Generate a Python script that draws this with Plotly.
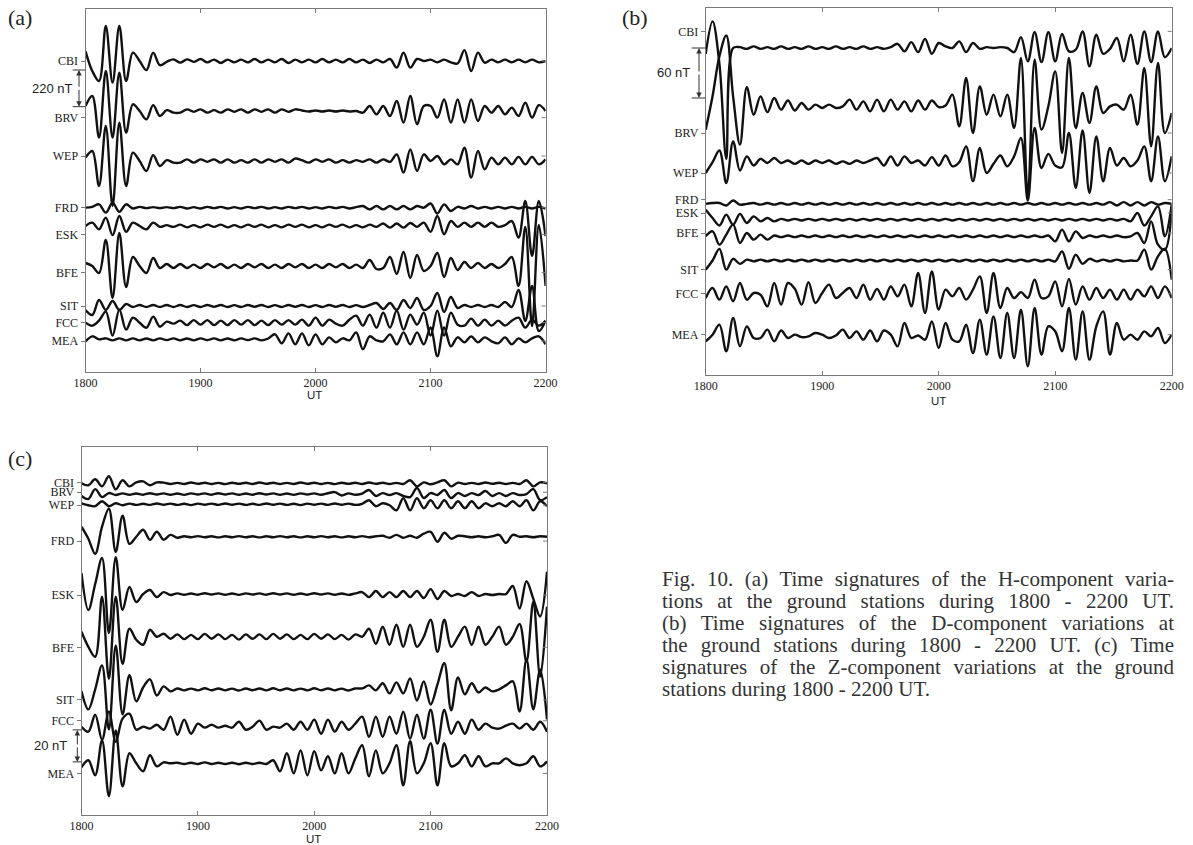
import json
import numpy as np
import plotly.graph_objects as go

W, H = 1193, 845

# sampling times, minutes after 1800 UT
T_MIN = np.linspace(0, 240, 69)
X_TICKS = [0, 60, 120, 180, 240]
X_TICK_TEXT = ["1800", "1900", "2000", "2100", "2200"]
STATIONS = ["CBI", "BRV", "WEP", "FRD", "ESK", "BFE", "SIT", "FCC", "MEA"]

# ---------------- (a) H component (nT) ----------------
H_CBI = [60, -60, -120, 210, -130, 210, -120, 50, 0, -55, 50, -25, -5, 10,
         -10, 10, -5, 12, -8, 8, -12, 8, -8, 8, -8, 12, -8, 8, -8, 12, -12, 8,
         -8, 8, -8, 12, -8, 8, -8, 12, -8, 8, -12, 8, -8, 12,
         -40, 50, -40, 12, 0, 8, -8, 8, -8, -15, 65, -60, 50, -10, 8, -8, 8, -8, 8, -8, 8, -8, 0]
H_BRV = [30, 90, -160, 240, -160, 230, -130, 40, 0, -50, 35, -30, 5, -10,
         -10, 10, -5, 10, -10, 5, -10, 10, -5, 10, -10, 10, -5, 10, -10, 10, -5, 10,
         3, -3, 3, -3, 3, -3, 3, -3,
         0, -10, 30, -20, 30, -30, 60, -70, 90, -80, 30, 30, -40, 70, -70, 70, -70, 70, -60, 30,
         -10, 30, -20, 20, -30, 50, -40, 35, 0]
H_WEP = [20, 60, -150, 210, -270, 230, -150, 50, 0, -60, 35, -30, 5, -10,
         -10, 10, -10, 10, -5, 10, -10, 10, -10, 5, -10, 10, -10, 10, -5, 10, -10, 15,
         5, -10, 10, -5, 10, -10, 5, -10,
         5, -5, 10, -10, 10, -5, 40, -70, 70, -60, 40, 0, 30, -20, 10, -20, 80, -100, 60, -50,
         20, -20, 20, -20, 25, -20, 25, -20, 10]
H_FRD = [0, 5, 20, -30, 30, -25, 20, -5, 5, -3, 3, -3, 3, -3,
         5, -5, 3, -5, 5, -3, 5, -5, 3, -5, 5, -3, 5, -5, 3, -5, 5, -3, 5, -5, 3, -5, 5, -3, 5, -5, 3,
         10, -10, 10, -10, 10, -10, 10, -10, 10,
         0, 25, -35, 20, -20, 5, -5, 10, -5, 5, -5, 5, -5, 5, -5, 5, -5, 5, -5]
H_ESK = [0, 20, -20, 50, -55, 60, -35, 20, 0, -20, 20, -5, 5, -5,
         8, -8, 5, -8, 8, -5, 8, -8, 5, -8, 8, -5, 8, -8, 5, -8, 8, -5,
         8, -8, 5, -8, 8, -5, 8, -8, 5, -8, 8, -5, 15, -10, 15, -10, 18, -5,
         20, -35, 60, -50, 30, -5, 20, -5, 20, -5, 20, -5, 5,
         30, -70, 150, -180, 150, -60]
H_BFE = [18, 0, -42, 156, -192, 198, -126, 54, 0, -42, 48, -12, 12, -12,
         12, -12, 8, -12, 12, -8, 12, -12, 8, -12, 12, -8, 12, -12, 8, -12, 12, -8, 12, -12,
         8, -12, 12, -8, 12, -12, 8, -12,
         36, -18, -12, 54, -48, 84, -72, 66, -30, 0, 78, -66, 48, -24, 24, -12, 18, -12, 12, -12, 12,
         54, -120, 234, -360, 246, -120]
H_SIT = [-24, -54, 36, -24, 30, -24, 12, -6, 6, -6, 6, -6, 6, -6,
         6, -6, 5, -6, 6, -5, 6, -6, 5, -6, 6, -5, 6, -6, 5, -6, 6, -5, 6, -6,
         5, -6, 6, -5, 6, -6, 5, -6, 6, 18, -18, 18,
         -24, 36, -12, 48, -24, 0, 78, -36, 54, -12, 6, -6, 6, -6, 6, -6, 24, -6, 96, -90, 120, -150, -90]
H_FCC = [0, -18, 12, 66, -78, 78, -42, 30, 0, -30, 36, -24, 6, -6,
         12, -15, 15, -12, 15, -15, 12, -15, 15, -12, 15, -15, 12, -15, 15, -12, 15, -12, 18, -18,
         30, -18, 18, -6, -18, 18, 42, -18, 48, -30, 60, -30, 72, -42, 48, -12, 60, -78, 72, -78,
         60, -12, -18, 24, -18, 18, -18, 12, -18, 12, 30, -30, 18, -18, 12]
H_MEA = [-12, 18, 0, 6, -6, 6, -6, 6, -6, 5, -6, 6, -5, 6, -6, 5, -6, 6, -5, 6, -6, 5, -6, 6,
         -5, 6, -6, 5,
         30, -24, 36, -30, 36, -36, 30, -30, 12, -18, 6, -6, 42, -60, 18, -6, -12, 30, -30, 42,
         -30, 42, -30, 72, -102, 72, -42, 12, -18, 18, -18, 12, -12, -24, 12, -30, 6, -18, 6, 18, -30]

# ---------------- (b) D component (nT) ----------------
D_CBI = [-7, 32, -19, -133, 0,
         1, -1, 2, -1, 1, -1, 2, -1, 1, -1, 2, -1, 1, -1, 2, -1, 1, -1, 2, -1, 1, -1, 1,
         5, -4, 7, -5, 11, -7, 6, 2, 0, 8, -5, 6, -1, 1, 0, 1, 0, -5, 13, -16, 19, -17, 19, -16,
         17, -4, -2, 20, -22, 16, -7, -1, 12, -16, 16, -19, 20, -17, 20, -11, 0]
D_BRV = [-28, 12, 60, 85, 12, -46, 23, -10, 12, -7, 10, -4, 7, -5, 4, -4, 2, -2, 2, -2, 0,
         8, -4, 6, -6, 8, -6, 8, -4, 6, -6, 7, -4, 7, -1, 1, 14, -24, 34, -32, 24, -10, 14, -12,
         14, -26, 58, -108, 56, -28, 0, 42, -56, 58, -26, 16, -20, 24, -8, 0, 2, -4, 14, -22,
         46, -48, 52, -32, -8]
D_WEP = [-13, 0, 14, -25, 25, -10, 7, -4, 4, -1, 5, -1, 2, -2,
         2, -2, 2, -1, 2, -2, 1, -2, 2, -1, 2,
         5, -4, 7, -4, 7, -1, 2, -4, 6, -4, 8, -5, 0, 19, -23, 17, -13, -2, 8, -5, 7, 29, -46,
         41, -7, 10, -4, -6, 35, -31, 38, -37, 31, -23, 17, -4, 5, -5, 2, 19, -23, 31, -23, 7]
D_FRD = [0, 1, 1, -2, 4, -1, 0,
         1, -1, 1, -1, 1, -1, 1, -1, 1, -1, 1, -1, 1, -1, 1, -1, 1, -1, 1, -1, 1, -1, 1, -1,
         1, -1, 1, -1, 1, -1, 1, -1, 1, -1, 1, -1, 1, -1, 1, -1, 1, -1, 1, -1, 1, -1, 1, -1,
         1, -1, 1, -1,
         2, -2, 2, -2, 2, -2, 2, -1, 1, 0]
D_ESK = [12, 2, -7, 6, -6, 7, -4, 4, -2, 2, -2,
         1, -1, 1, -1, 1, -1, 1, -1, 1, -1, 1, -1, 1, -1, 1, -1, 1, -1, 1, -1, 1, -1, 1, -1,
         1, -1, 1, -1, 1, -1, 1, -1, 1, -1, 1, -1, 1, -1, 1, -1, 1, -1, 1, -1, 1, -1, 1, -1,
         1, -1, 1,
         -2, 8, -7, 4, 16, -20, 18]
D_BFE = [0, 6, -10, 2, 14, -8, 4, -4, 2, -4, 1, -1,
         1, -1, 1, -1, 1, -1, 1, -1, 1, -1, 1, -1, 1, -1, 1, -1, 1, -1, 1, -1, 1, -1, 1, -1,
         1, -1, 1, -1, 1, -1, 1, -1, 1, -1, 1, -1, 1, -1, 1,
         -6, 8, -6, 6, -2, 1, -1, 1, -1, 1, -1, 0,
         4, -8, 18, -10, -16, 30]
D_SIT = [-11, 0, 14, -11, 2, -4, 1, -1,
         1, -1, 1, -1, 1, -1, 1, -1, 1, -1, 1, -1, 1, -1, 1, -1, 1, -1, 1, -1, 1, -1, 1, -1,
         1, -1, 1, -1, 1, -1, 1, -1, 1, -1, 1, -1, 1, -1, 1, -1, 1, -1, 1,
         -1, 11, -10, 7, -4, 2, -1, 1, -1, 1, -1, 0,
         0, 13, -11, 5, 14, -23]
D_FCC = [-6, 6, -8, 8, -10, 12, -8, 0, -2, -16, 12, -14, 12, 5, -14, 13, -12, 0, 10, -6, 0, 6,
         -6, 10, -8, 5, -8, 8, -4, 10, -16, 24, -24, 26, -20, 4, -4, 6, -8, 4, 20, -24, 24, -18,
         6, -6, 1, -6, 16, -6, -4, 14, -16, 17, -14, 8, -8, 6, -6, 4, -8, 4, -8, 4, -4, 8, -6, 8, -6]
D_MEA = [-6, 2, 14, -18, 22, -12, 12, -2, -2, 8, -6, 7, -2, 2, -1, 0, 4, 2, -2, 1, 8, -2, 6,
         -4, 7, -6, 7, 2, -12, 16, -2, 1, -4, 18, -14, 16, -4, -6, 14, -20, 20, -22, 24, -26, 28,
         -26, 32, -36, 34, -22, 12, 6, -18, 34, -28, 30, -28, 12, 30, -22, 16, -4, 2, -4, 6, 0,
         10, -8, 2]

# ---------------- (c) Z component (nT) ----------------
Z_CBI = [0, -1.2, 2.5, -1.9, 4.4, -3.8, 1.9, -1.9, 0.6, 1.2, -1.2, 0.6,
         0.4, -0.4, 0.3, -0.4, 0.5, -0.3, 0.4, -0.4, 0.3, -0.5, 0.4, -0.3, 0.4, -0.4, 0.5, -0.3,
         0.4, -0.4, 0.3, -0.4, 0.5, -0.3, 0.4, -0.4, 0.3, -0.5, 0.4, -0.3, 0.4, -0.4, 0.5, -0.3,
         0.4, -0.4, 0.3, -0.4,
         1.9, -1.9, 0.6, -0.6, 0.6, 1.9, -1.9,
         0.4, -0.4, 0.3, -0.4, 0.5, -0.3, 0.4, -0.4, 0.3, -0.4,
         1.9, -1.9, 0.6, 0]
Z_BRV = [-1.2, -3.1, 3.1, -1.9, 0.6, -0.6,
         0.4, -0.4, 0.3, -0.4, 0.5, -0.3, 0.4, -0.4, 0.3, -0.5, 0.4, -0.3, 0.4, -0.4, 0.5, -0.3,
         0.4, -0.4, 0.3, -0.4, 0.5, -0.3, 0.4, -0.4, 0.3, -0.5, 0.4, -0.3, 0.4, -0.4, 0.5, 1.2,
         -0.9, 0.4, -0.4, 0.3,
         2.5, -1.2, 0.6, -0.6, 0.6, -1.2, -1.9, 3.8, -2.5, 0.6, -0.6, 2.5, -2.5, 0.6, -1.2, 0.6,
         -0.6, 1.9, -1.2, 0.6, -1.2, 0.6, -0.6, 0, 3.1, -3.8, -1.9]
Z_WEP = [0.6, -0.6, -1.2, 1.9, -1.2, 0.6, -0.6,
         0.4, -0.4, 0.3, -0.4, 0.5, -0.3, 0.4, -0.4, 0.3, -0.5, 0.4, -0.3, 0.4, -0.4, 0.5, -0.3,
         0.4, -0.4, 0.3, -0.4, 0.5, -0.3, 0.4, -0.4, 0.3, -0.5, 0.4, -0.3, 0.4, -0.4, 0.5, -0.3,
         0.4, -0.4, 0.3,
         2.5, -1.2, 0.6, -0.6, -3.8, 3.8, -3.8, 3.8, -2.5, 2.5, -2.5, 2.5, -2.5, 1.9, -2.5, 1.9,
         -2.5, 0.6, -1.2, 0.6, -1.2, 1.9, -1.2, 2.5, -3.8, 1.9, -1.2]
Z_FRD = [6.3, -1.2, -10.6, 6.3, 17.5, -9.4, 13.1, -4.4, 0, 4.4, -1.9, 3.1, -1.9, 1.2, -0.6,
         0.3, -0.3, 0.4, -0.3, 0.3, -0.4, 0.3, -0.3, 0.4, -0.3, 0.3, -0.4, 0.3, -0.3, 0.4, -0.3,
         0.3, -0.4, 0.3, -0.3, 0.4, -0.3, 0.3, -0.4, 0.3, -0.3, 0.4, -0.3, 0.3,
         0.6, -0.6, 1.2, -0.6, 0.6, -0.6, 1.9, 3.1, -3.1, 2.5, -1.2, 0.6,
         0.3, -0.3, 0.3, -0.3, 0.3,
         1.2, -3.8, 1.2, 0, 0.3, -0.3, 0.3, 0]
Z_ESK = [13.1, -10, 6.3, 22.5, -24.4, 23.1, -10, 4.4, -5, 0, 2.5, -1.9, 1.2, -0.6,
         0.4, -0.4, 0.3, -0.4, 0.5, -0.3, 0.4, -0.4, 0.3, -0.5, 0.4, -0.3, 0.4, -0.4, 0.5, -0.3,
         0.4, -0.4, 0.3, -0.4, 0.5, -0.3, 0.4, -0.4, 0.3, -0.5, 0.4,
         1.2, -1.9, 1.9, -1.9, 1.2, -1.9, 1.9, -1.9, 1.9, -2.5, 3.1, -3.1, 1.9, -1.2, 0, -1.2, 1.2,
         -1.2, 0, -0.6, 0, 0,
         5, -9, 8, -3, -14, 14]
Z_BFE = [3.1, -6.3, -12.5, 25, -26.3, 25, -16.9, 5, -1.9, -5, 4.4, 0, 1.9, -1.2,
         1.5, -1.5, 1.2, -1.5, 1.8, -1.2, 1.5, -1.5, 1.2, -1.8, 1.5, -1.2, 1.5, -1.5, 1.8, -1.2,
         1.5, -1.5, 1.2, -1.5, 1.8, -1.2, 1.5, -1.5, 1.2, -1.8, 1.5,
         0, 5, -4.4, 6.3, -5, 7.5, -6.3, 7.5, -6.3, 0, 10.6, -9.4, 10.6, -6.3, 0, 6.3, -5, 6.3,
         -5, 0, 6.3, -5,
         0, 8, -15.6, 21.9, -25, 18.8]
Z_SIT = [-1.2, -12.5, 0, 15, -25, 27.5, -15.6, 8.8, -7.5, 1.2, 6.3, -3.8, 1.9, -1.2,
         0.6, -0.6, 0.5, -0.6, 0.7, -0.5, 0.6, -0.6, 0.5, -0.7, 0.6, -0.5, 0.6, -0.6, 0.7, -0.5,
         0.6, -0.6, 0.5, -0.6, 0.7, -0.5, 0.6, -0.6, 0.5, -0.7, 0.6,
         0.6, 2.5, -0.6, 3.8, -2.5, 4.4, -2.5, 6.9, -6.9, 5, -9.4, 3.1, 16.3, -13.1, 7.5, -3.1,
         3.8, -1.9, 1.2, -1.2, 0, 2.5, 5, -13.8, 18.8, -12.5, 12.5, -18.8]
Z_FCC = [0, -3.1, 7.5, -8.1, 9.4, -9.4, 5, 8.1, -1.9, 0, -1.2, 1.2, -1.9, 6.3, -5, 4.4, -4.4,
         1.9, -0.6, 1.2, -0.6, 0.6, -0.6, 3.1, -1.9, 0, 3.8, -1.9, 0, -0.6, 1.9, -1.9, 3.1, -1.9,
         4.4, -4.4, 4.4, -3.1, 3.1, -1.9, 1.9,
         6.3, -6.3, 6.3, -6.3, 6.3, -4.4, 9.4, -7.5, 7.5, -7.5, 10.6, -10.6, 10.6, -4.4, 3.1,
         -4.4, 4.4, -1.9, 1.9, -0.6, -1.2, 0.6, 1.9, -1.2, 1.9, -1.9, 3.1, -3.1]
Z_MEA = [-2.5, 1.9, -7.5, 14.4, -20.6, 20.6, -14.4, 6.3, 0, -5, 5, -1.9, 0.6, 0,
         0.4, -0.4, 0.4, -0.4, 0.6, -0.4, 0.4, -0.4, 0.4, -0.6, 0.4, -0.4, 0.4, -0.4,
         1.9, -5, 6.3, -6.3, 8.1, -7.5, 7.5, -4.4, 4.4, -6.3, 6.3, -6.3, 3.1, 11.3, -8.1, 8.1,
         -6.3, 0, 11.3, -13.8, 13.8, -6.3, 0, 12.5, -13.8, 12.5, -1.9, 0, 5, -1.9, 4.4, -1.9, 0,
         0, 3.1, 0, -1.2, 0, 4.4, -1.9, 1.2]

SERIES_A = [H_CBI, H_BRV, H_WEP, H_FRD, H_ESK, H_BFE, H_SIT, H_FCC, H_MEA]
SERIES_B = [D_CBI, D_BRV, D_WEP, D_FRD, D_ESK, D_BFE, D_SIT, D_FCC, D_MEA]
SERIES_C = [Z_CBI, Z_BRV, Z_WEP, Z_FRD, Z_ESK, Z_BFE, Z_SIT, Z_FCC, Z_MEA]
for grp in (SERIES_A, SERIES_B, SERIES_C):
    for s in grp:
        assert len(s) == len(T_MIN), len(s)

CAPTION = [
    "Fig. 10. (a) Time signatures of the H-component varia-",
    "tions at the ground stations during 1800 - 2200 UT.",
    "(b) Time signatures of the D-component variations at",
    "the ground stations during 1800 - 2200 UT. (c) Time",
    "signatures of the Z-component variations at the ground",
    "stations during 1800 - 2200 UT.",
]

# ---------------- layout (pixel boxes, trace offsets in nT) ----------------
PANELS = [
    dict(box=(85.5, 545.6, 9, 372), yrange=(-1866, 312), series=SERIES_A,
         offsets=[0, -300, -600, -880, -990, -1230, -1470, -1570, -1670],
         labels_at=[0, -340, -570, -880, -1040, -1270, -1470, -1570, -1680],
         bar=dict(x=79, top=-54, length=220, text="220 nT", tx=75, e0=72.7, e1=85.5),
         letter="(a)", letter_xy=(6, 17), ut_xy=(315, 395)),
    dict(box=(705.7, 1171.7, 8, 375), yrange=(-392.4, 48), series=SERIES_B,
         offsets=[0, -70, -137, -187, -206, -226, -255, -294, -346],
         labels_at=[20, -102, -150, -182, -198, -222, -266, -295, -344],
         bar=dict(x=699, top=0, length=60, text="60 nT", tx=692, e0=691.7, e1=705.7),
         letter="(b)", letter_xy=(620, 17), ut_xy=(938, 401)),
    dict(box=(81.5, 547, 447, 815), yrange=(-207.3, 22.7), series=SERIES_C,
         offsets=[0, -6.7, -13.1, -33.4, -69.2, -95.9, -128.8, -152.1, -175.0],
         labels_at=[0.6, -5.6, -13.6, -36.1, -69.8, -102.5, -135.4, -148.4, -181.3],
         bar=dict(x=77.3, top=-154.1, length=20, text="20 nT", tx=69, e0=72.7, e1=81.5),
         letter="(c)", letter_xy=(6, 458), ut_xy=(313, 838.5)),
]

AX_COLOR = "#7a7a7a"
SERIF = "Liberation Serif"
SANS = "Liberation Sans"
CAPTION_LEFT, CAPTION_RIGHT = 660, 1172

fig = go.Figure()
layout = {}
shapes = []
annotations = []


def ypix(p, v):
    x0, x1, y0, y1 = p["box"]
    lo, hi = p["yrange"]
    return y0 + (hi - v) / (hi - lo) * (y1 - y0)


for i, p in enumerate(PANELS):
    sfx = "" if i == 0 else str(i + 1)
    x0, x1, y0, y1 = p["box"]
    for name, vals, off in zip(STATIONS, p["series"], p["offsets"]):
        fig.add_trace(go.Scatter(
            x=T_MIN, y=np.asarray(vals, dtype=float) + off, mode="lines", name=name,
            line=dict(color="#111111", width=2.4, shape="spline", smoothing=1.0),
            xaxis="x" + sfx, yaxis="y" + sfx, showlegend=False, hoverinfo="skip"))
    layout["xaxis" + sfx] = dict(
        domain=[x0 / W, x1 / W], range=[0, 240], anchor="y" + sfx,
        tickvals=X_TICKS, ticktext=X_TICK_TEXT, ticks="inside", ticklen=4,
        tickcolor=AX_COLOR, showline=True, linecolor=AX_COLOR, linewidth=1,
        mirror="ticks", showgrid=False, zeroline=False, fixedrange=True,
        tickfont=dict(family=SERIF, size=12, color="#222"))
    layout["yaxis" + sfx] = dict(
        domain=[1 - y1 / H, 1 - y0 / H], range=list(p["yrange"]), anchor="x" + sfx,
        tickvals=p["labels_at"], ticktext=STATIONS, ticks="outside", ticklen=4,
        tickcolor=AX_COLOR, showline=True, linecolor=AX_COLOR, linewidth=1,
        mirror=True, showgrid=False, zeroline=False, fixedrange=True,
        tickfont=dict(family=SERIF, size=12, color="#222"))
    # right-hand inner ticks
    for v in p["labels_at"]:
        yy = 1 - ypix(p, v) / H
        shapes.append(dict(type="line", xref="paper", yref="paper",
                           x0=(x1 - 4) / W, x1=x1 / W, y0=yy, y1=yy,
                           line=dict(color=AX_COLOR, width=1)))
    # scale bar
    b = p["bar"]
    ytop = ypix(p, b["top"])
    ybot = ypix(p, b["top"] - b["length"])
    ymid = (ytop + ybot) / 2
    half = (ybot - ytop) / 2
    for yy in (ytop, ybot):
        shapes.append(dict(type="line", xref="paper", yref="paper",
                           x0=b["e0"] / W, x1=b["e1"] / W, y0=1 - yy / H, y1=1 - yy / H,
                           line=dict(color="#333", width=1)))
    annotations.append(dict(x=b["x"] / W, y=1 - ytop / H, xref="paper", yref="paper",
                            ax=0, ay=half, text="", showarrow=True, arrowhead=2,
                            arrowsize=1.1, arrowwidth=1, arrowcolor="#333", standoff=0))
    annotations.append(dict(x=b["x"] / W, y=1 - ybot / H, xref="paper", yref="paper",
                            ax=0, ay=-half, text="", showarrow=True, arrowhead=2,
                            arrowsize=1.1, arrowwidth=1, arrowcolor="#333", standoff=0))
    annotations.append(dict(x=b["tx"] / W, y=1 - ymid / H, xref="paper", yref="paper",
                            text=b["text"], showarrow=False, xanchor="right", yanchor="middle",
                            font=dict(family=SANS, size=13, color="#222")))
    # panel letter and UT label
    lx, ly = p["letter_xy"]
    annotations.append(dict(x=lx / W, y=1 - ly / H, xref="paper", yref="paper",
                            text=p["letter"], showarrow=False, xanchor="left", yanchor="middle",
                            font=dict(family=SERIF, size=22, color="#222")))
    ux, uy = p["ut_xy"]
    annotations.append(dict(x=ux / W, y=1 - uy / H, xref="paper", yref="paper",
                            text="UT", showarrow=False, xanchor="center", yanchor="middle",
                            font=dict(family=SANS, size=11.5, color="#222")))

for j, line in enumerate(CAPTION):
    yy = 579 + j * 22
    annotations.append(dict(x=CAPTION_LEFT / W, y=1 - yy / H, xref="paper", yref="paper",
                            text=line, showarrow=False, xanchor="left", yanchor="middle",
                            align="left",
                            font=dict(family=SERIF, size=21, color="#333")))

fig.update_layout(
    template="none", width=W, height=H, margin=dict(l=0, r=0, t=0, b=0),
    paper_bgcolor="white", plot_bgcolor="white", showlegend=False,
    shapes=shapes, annotations=annotations, **layout)

# justify the caption block (all lines but the last) to the column width
JUSTIFY_JS = """
var gd = document.getElementById('{plot_id}');
var lines = %s;
var target = %f;
gd.querySelectorAll('text.annotation-text').forEach(function (t) {
  var s = t.textContent;
  if (lines.indexOf(s) < 0) { return; }
  var gaps = s.split(' ').length - 1;
  var w = t.getComputedTextLength();
  var extra = (target - w) / gaps;
  if (gaps > 0 && extra > 0 && extra < 25) { t.style.wordSpacing = extra + 'px'; }
});
""" % (json.dumps(CAPTION[:-1]), CAPTION_RIGHT - CAPTION_LEFT)

fig.write_html("out.html", post_script=JUSTIFY_JS)
